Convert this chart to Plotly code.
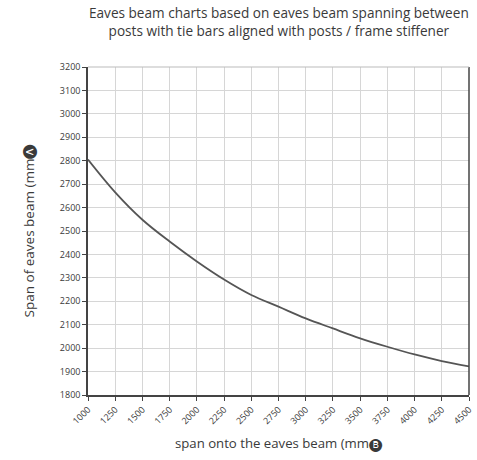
import plotly.graph_objects as go

span_onto = [1000, 1250, 1500, 1750, 2000, 2250, 2500, 2750, 3000, 3250, 3500, 3750, 4000, 4250, 4500]
span_eaves = [2805, 2665, 2548, 2455, 2370, 2293, 2227, 2177, 2127, 2084, 2042, 2006, 1973, 1945, 1922]

x_ticks = [1000, 1250, 1500, 1750, 2000, 2250, 2500, 2750, 3000, 3250, 3500, 3750, 4000, 4250, 4500]
y_ticks = list(range(1800, 3201, 100))

title_text = "Eaves beam charts based on eaves beam spanning between<br>posts with tie bars aligned with posts / frame stiffener"
x_title = "span onto the eaves beam (mm🅑"
y_title = "Span of eaves beam (mm🅐"

FONT = "Open Sans"
TXT = "#3a3a3a"
fig = go.Figure()
fig.add_trace(go.Scatter(x=span_onto, y=span_eaves, mode="lines",
                         line=dict(color="#555555", width=1.8, shape="spline"), showlegend=False))

fig.update_layout(
    width=477, height=460,
    margin=dict(l=88, r=3, t=67, b=65),
    paper_bgcolor="white", plot_bgcolor="white",
    font=dict(family=FONT, color=TXT),
)
fig.add_annotation(text=title_text, xref="paper", yref="paper", x=0.5, y=1.075,
                   xanchor="center", yanchor="bottom", showarrow=False,
                   font=dict(size=13.6, color=TXT), align="center")
fig.update_xaxes(
    range=[1000, 4500], tickvals=x_ticks, ticktext=[str(v) for v in x_ticks], tickangle=-45,
    tickfont=dict(size=9, color=TXT), ticks="outside", ticklen=4, tickcolor="#444444",
    ticklabeloverflow="allow",
    showline=True, linecolor="#444444", linewidth=1.5, mirror=False,
    showgrid=True, gridcolor="#d6d6d6", gridwidth=1, zeroline=False,
    title=dict(text=x_title, font=dict(size=13.2, color=TXT), standoff=13),
)
fig.update_yaxes(
    range=[1800, 3200], tickvals=y_ticks, ticktext=[str(v) for v in y_ticks],
    tickfont=dict(size=9, color=TXT), ticks="outside", ticklen=4, tickcolor="#444444",
    showline=True, linecolor="#444444", linewidth=1.5, mirror=False,
    showgrid=True, gridcolor="#d6d6d6", gridwidth=1, zeroline=False,
    title=dict(text=y_title, font=dict(size=13.5, color=TXT), standoff=22),
)
fig.add_shape(type="line", xref="paper", yref="paper", x0=1, x1=1, y0=0, y1=1,
              line=dict(color="#444444", width=1.5))
fig.add_shape(type="line", xref="paper", yref="paper", x0=0, x1=1, y0=1, y1=1,
              line=dict(color="#bbbbbb", width=1))

fig.write_html("out.html", config={"displayModeBar": False},
               post_script="document.body.style.margin='0';document.body.style.overflow='hidden';")
